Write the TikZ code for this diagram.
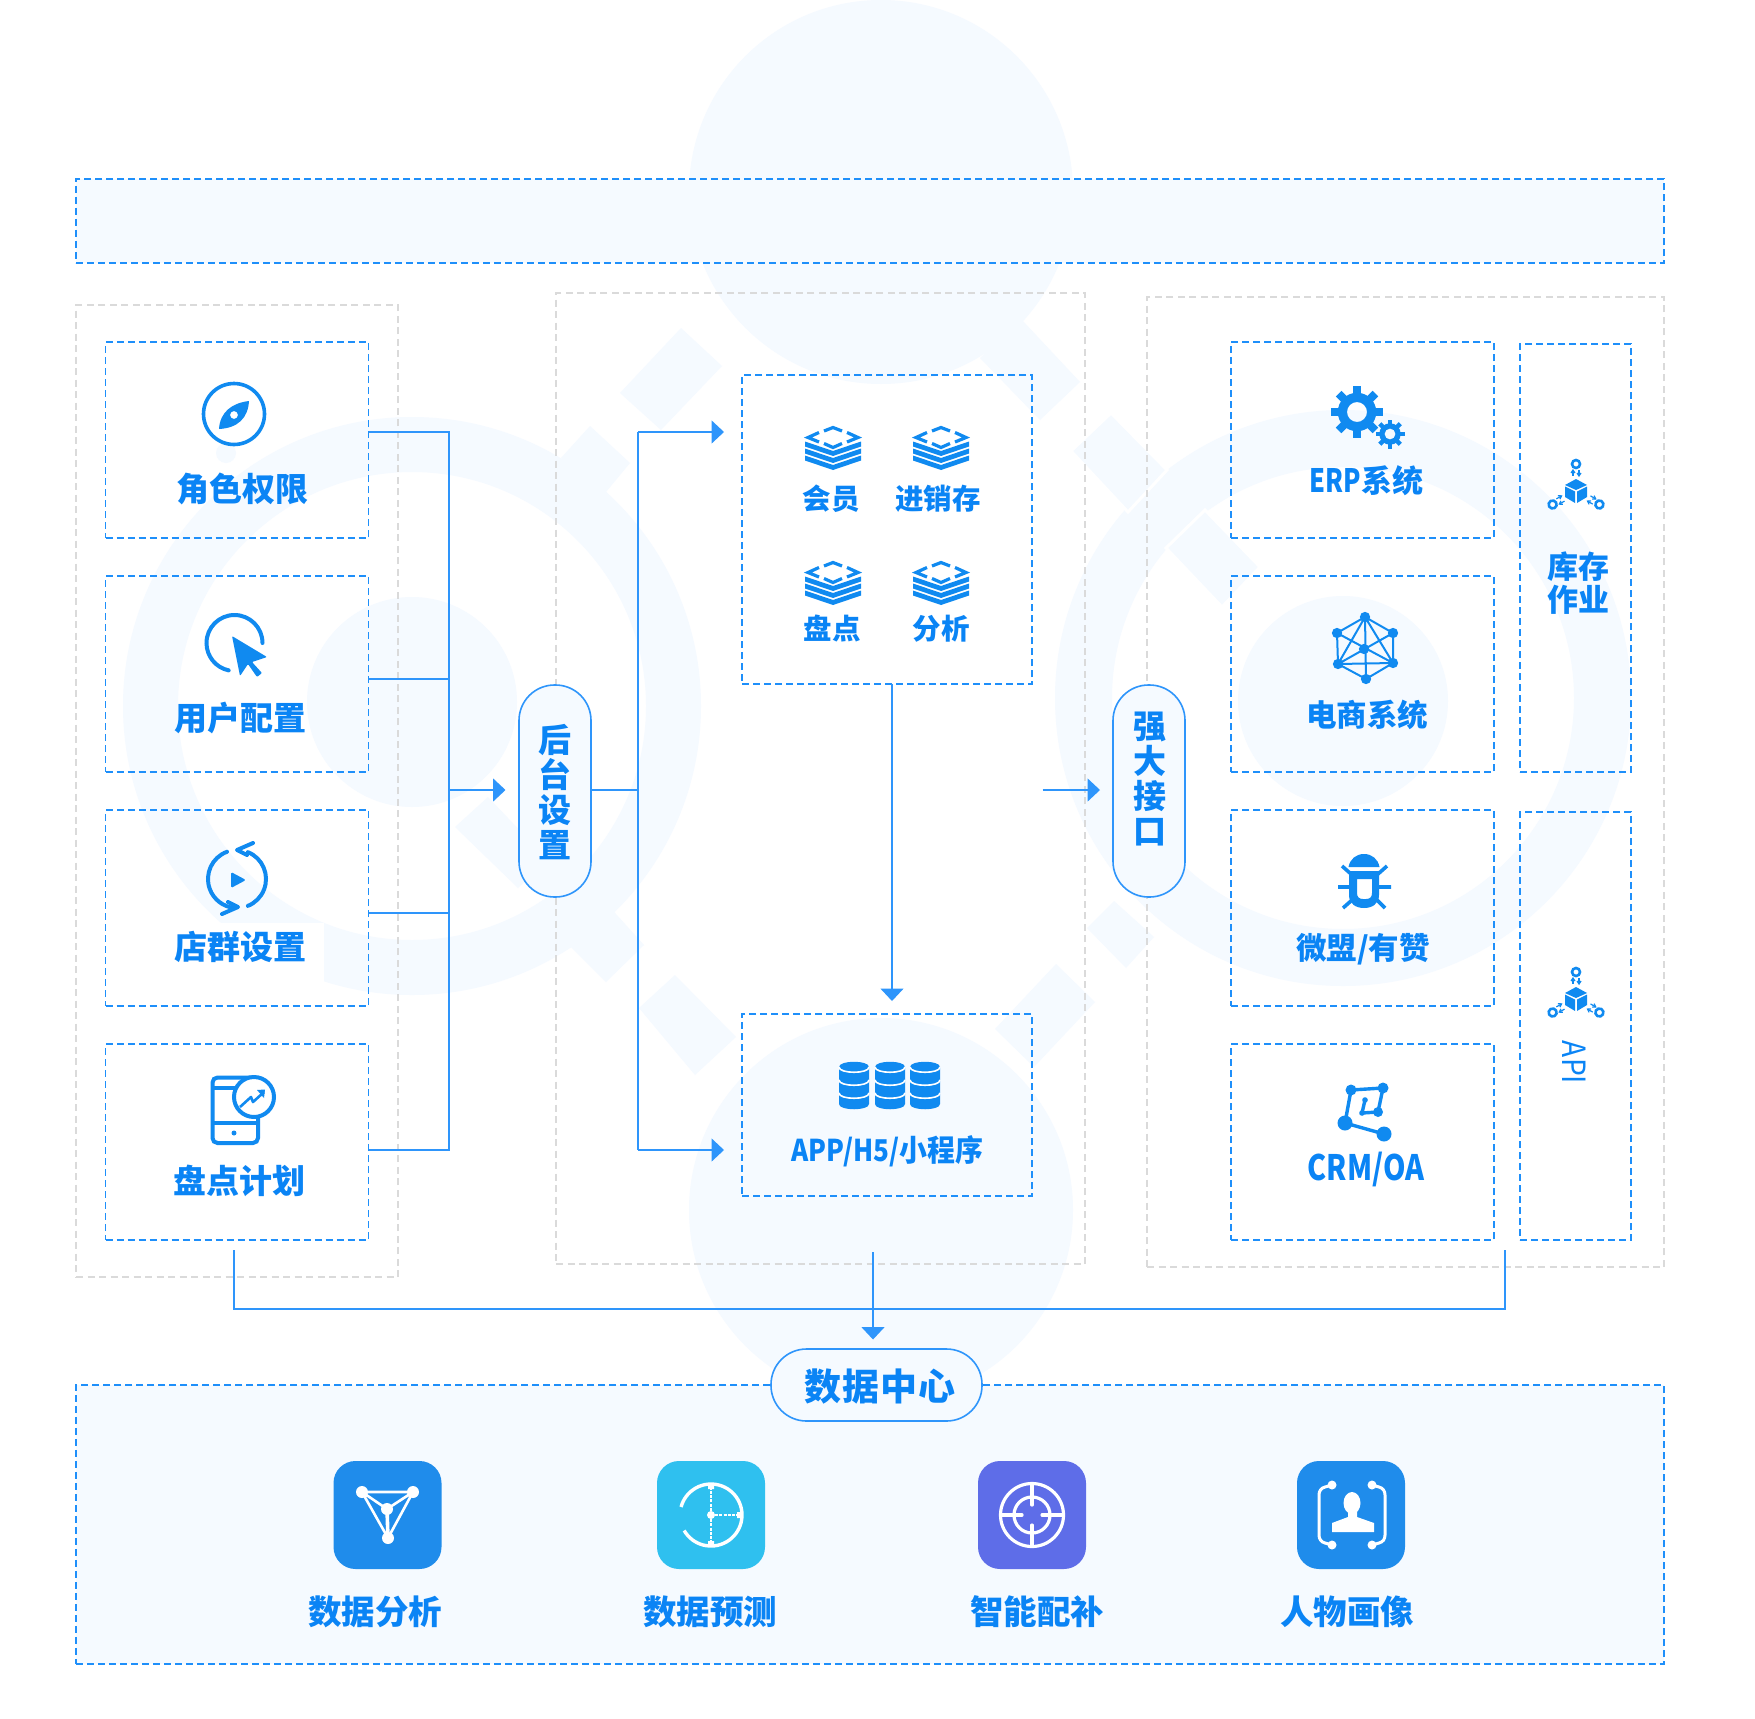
\documentclass[tikz,border=0pt]{standalone}
\usepackage{fontspec}
\usetikzlibrary{arrows.meta,calc}
\newfontfamily\cjkfont{Noto Sans CJK SC}
\definecolor{pale}{HTML}{F5FAFF}
\definecolor{dashblue}{HTML}{1E8FFA}
\definecolor{linkblue}{HTML}{2E95FB}
\definecolor{grayline}{HTML}{DADADA}
\definecolor{labblue}{HTML}{0A84F5}
\definecolor{iconblue}{HTML}{108AF0}
\definecolor{tileA}{HTML}{1F8CEB}
\definecolor{tileB}{HTML}{2FC0EF}
\definecolor{tileC}{HTML}{5E6DE8}
\tikzset{
  x=1pt,y=-1pt,
  bluebox/.style={draw=dashblue,line width=1.6pt,dash pattern=on 7pt off 4pt,inner sep=0pt,outer sep=0pt},
  graybox/.style={draw=grayline,line width=1.5pt,dash pattern=on 7pt off 4.5pt,inner sep=0pt,outer sep=0pt},
  paneA/.style={bluebox,minimum width=263pt,minimum height=196pt},
  paneB/.style={bluebox,minimum width=111pt,minimum height=428pt},
  paneC/.style={bluebox,minimum width=290pt},
  pill/.style={draw=linkblue,line width=1.6pt,fill=pale,inner sep=0pt,outer sep=0pt,rounded corners=35.5pt},
  link/.style={draw=linkblue,line width=1.6pt},
  arr/.style={link,-{Triangle[length=12.5pt,width=23pt,fill=linkblue]}},
  lab/.style={text=labblue,inner sep=0pt,outer sep=0pt,align=center,font=\cjkfont\bfseries\fontsize{#1}{#1}\selectfont},
  tile/.style={minimum width=108pt,minimum height=108pt,rounded corners=22pt,inner sep=0pt,outer sep=0pt},
}
% icon pieces, each placed by its reference point
\newcommand{\stackicon}[2]{\begin{scope}[shift={(#1,#2)},iconblue]
  \draw[line width=3.2pt] (-9,5)--(0,1.5)--(9,5);
  \draw[line width=3.2pt] (-14,6.5)--(-25,11.5)--(-14,16);
  \draw[line width=3.2pt] (14,6.5)--(25,11.5)--(14,16);
  \draw[line width=3.2pt] (-9,17.5)--(0,21.5)--(9,17.5);
  \foreach \yy in {15.5,22.5,29.5}{\fill (-28,\yy)--(0,\yy+9.5)--(28,\yy)--(28,\yy+5)--(0,\yy+14.5)--(-28,\yy+5)--cycle;}
\end{scope}}
\newcommand{\cylicon}[1]{\begin{scope}[shift={(#1,1067)}]
  \fill[iconblue] (-15,0)--(-15,37) .. controls (-15,44) and (15,44) .. (15,37)--(15,0) .. controls (15,-7) and (-15,-7) .. (-15,0)--cycle;
  \foreach \yy in {0,13,26}{\draw[white,line width=1.6pt] (-15,\yy) .. controls (-15,\yy+7) and (15,\yy+7) .. (15,\yy);}
\end{scope}}
\newcommand{\cubeicon}[2]{\begin{scope}[shift={(#1,#2)}]
  \fill[iconblue] (0,-12)--(11,-6)--(0,-1)--(-11,-6)--cycle;
  \fill[iconblue] (-11,-4.5)--(-1,0.5)--(-1,12)--(-11,6)--cycle;
  \fill[iconblue] (11,-4.5)--(1,0.5)--(1,12)--(11,6)--cycle;
  \foreach \aa in {0,120,240}{\begin{scope}[rotate=\aa]
    \draw[iconblue,line width=2.6pt,fill=white] (0,-27) circle[radius=4pt];
    \draw[iconblue,line width=1.2pt] (-3,-21)--(-3,-15);
    \draw[iconblue,line width=1.2pt] (3,-21)--(3,-15);
    \draw[iconblue,line width=1.2pt] (-5,-18)--(-3,-21)--(-1,-18);
    \draw[iconblue,line width=1.2pt] (1,-18)--(3,-15)--(5,-18);
  \end{scope}}
\end{scope}}
\newcommand{\gearicon}[5]{\begin{scope}[shift={(#1,#2)}]
  \foreach \aa in {0,45,...,315}{\draw[iconblue,line width=#5] (\aa:#3*0.6) -- (\aa:#3);}
  \fill[iconblue,even odd rule] (0,0) circle[radius=#3*0.74] (0,0) circle[radius=#4];
\end{scope}}
\begin{document}
\begin{tikzpicture}[line cap=butt]
\useasboundingbox (0,0) rectangle (1755,1718);
\fill[white] (0,0) rectangle (1755,1718);
% ---------- pale background artwork
\fill[pale] (881,192) circle[radius=192pt];
\fill[pale] (881,1210) circle[radius=192pt];
\fill[pale,even odd rule] (412,706) circle[radius=289pt] (412,706) circle[radius=234pt];
\fill[pale] (412,702) circle[radius=105pt];
\fill[pale,even odd rule] (1343,698) circle[radius=288pt] (1343,698) circle[radius=231pt];
\fill[pale] (1343,701) circle[radius=105pt];
\fill[pale] (681,328)--(722,366)--(661,430)--(620,393)--cycle;
\fill[pale] (1022,320)--(1080,382)--(1040,420)--(980,358)--cycle;
\fill[pale] (590,426)--(630,463)--(606,492)--(561,458)--cycle;
\fill[pale] (455,827)--(518,888)--(548,860)--(488,797)--cycle;
\fill[pale] (546,922)--(606,982)--(644,945)--(588,883)--cycle;
\fill[pale] (675,975)--(736,1037)--(695,1075)--(639,1008)--cycle;
\fill[pale] (1056,964)--(1095,1002)--(1034,1067)--(995,1029)--cycle;
\fill[pale] (1114,901)--(1154,937)--(1126,968)--(1087,928)--cycle;
\filldraw[pale,draw=white,line width=3pt] (1111,413)--(1167,470)--(1128,512)--(1071,451)--cycle;
\filldraw[pale,draw=white,line width=3pt] (1205,510)--(1260,567)--(1222,607)--(1166,548)--cycle;
\fill[white] (200,923) rectangle (324,1000);
\fill[pale] (226,453) circle[radius=10pt];
% ---------- top and bottom bands
\node[bluebox,fill=pale,minimum width=1588pt,minimum height=84pt] (topband) at (870,221) {};
\node[bluebox,fill=pale,minimum width=1588pt,minimum height=279pt] (databand) at (870,1524.5) {};
% ---------- gray groups
\node[graybox,minimum width=322pt,minimum height=972pt] (grpL) at (237,791) {};
\node[graybox,minimum width=529pt,minimum height=971pt] (grpM) at (820.5,778.5) {};
\node[graybox,minimum width=517pt,minimum height=970pt] (grpR) at (1405.5,782) {};
% ---------- panes
\node[paneA] (role) at (237,440) {};
\node[paneA] (user) at (237,674) {};
\node[paneA] (shop) at (237,908) {};
\node[paneA] (plan) at (237,1142) {};
\node[paneC,minimum height=309pt] (core) at (887,529.5) {};
\node[paneC,minimum height=182pt] (apps) at (887,1105) {};
\node[paneA] (erp) at (1362.5,440) {};
\node[paneA] (ecom) at (1362.5,674) {};
\node[paneA] (wei) at (1362.5,908) {};
\node[paneA] (crm) at (1362.5,1142) {};
\node[paneB] (stock) at (1575.5,558) {};
\node[paneB] (api) at (1575.5,1026) {};
% ---------- connector waypoints
\coordinate (busT) at (449,432);
\coordinate (busU) at (449,679);
\coordinate (busS) at (449,913);
\coordinate (busB) at (449,1150);
\coordinate (busM) at (449,790);
\coordinate (forkT) at (638,432);
\coordinate (forkM) at (638,790);
\coordinate (forkB) at (638,1150);
\coordinate (downX) at (892,684);
\coordinate (ifStart) at (1042.5,790);
\coordinate (colL) at (234,1250);
\coordinate (colLb) at (234,1309);
\coordinate (colR) at (1505,1250);
\coordinate (colRb) at (1505,1309);
\coordinate (midS) at (873,1252);
\coordinate (midB) at (873,1309);
% ---------- pills drawn after the links that run into them
\draw[link] (role.east |- busT) -- (busT) -- (busB) -- (plan.east |- busB);
\draw[link] (user.east |- busU) -- (busU);
\draw[link] (shop.east |- busS) -- (busS);
\node[pill,minimum width=72pt,minimum height=212pt] (backend) at (555,791) {};
\node[pill,minimum width=72pt,minimum height=212pt] (iface) at (1149,791) {};
\draw[arr,shorten >=13.5pt] (busM) -- (backend.west |- busM);
\draw[link] (backend.east |- forkM) -- (forkM);
\draw[link] (forkT) -- (forkB);
\draw[arr,shorten >=18pt] (forkT) -- (core.west |- forkT);
\draw[arr,shorten >=18pt] (forkB) -- (apps.west |- forkB);
\draw[arr,shorten >=13pt] (downX) -- (apps.north -| downX);
\draw[arr,shorten >=13pt] (ifStart) -- (iface.west |- ifStart);
\draw[link] (colL) -- (colLb) -- (colRb) -- (colR);
\node[pill,fill=pale,minimum width=211pt,minimum height=72pt] (hub) at (876.5,1385) {};
\draw[arr,shorten >=9.5pt] (midS) -- (hub.north -| midS);
% ---------- pill texts
\node[lab=32,font=\cjkfont\bfseries\fontsize{33}{35}\selectfont] (tBack) at (555,792) {后\\台\\设\\置};
\node[lab=32,font=\cjkfont\bfseries\fontsize{33}{35}\selectfont] (tIf) at (1150,779) {强\\大\\接\\口};
\node[lab=37] (tHub) at (880,1387) {数\kern1pt据\kern1pt中\kern1pt心};
% ---------- left icons
\draw[iconblue,line width=3.6pt] (234,414) circle[radius=30.5pt];
\fill[iconblue,even odd rule] (219,429) .. controls (220,412) and (232,403) .. (249,401) .. controls (248,418) and (238,428) .. (219,429)--cycle (234,415) circle[radius=4pt];
\draw[iconblue,line width=4pt,line cap=round] (234.5,643) ++(0:28pt) arc[start angle=0,end angle=258,radius=28pt];
\fill[iconblue,rounded corners=1pt] (232,636)--(267,657)--(252,662)--(262,673)--(257,677)--(248,664)--(240,676)--cycle;
\draw[iconblue,line width=4pt,line cap=round] (237,879) ++(110:29pt) arc[start angle=110,end angle=265,radius=29pt];
\draw[iconblue,line width=4pt,line cap=round] (237,879) ++(68:29pt) arc[start angle=68,end angle=-68,radius=29pt];
\draw[iconblue,line width=4pt,line cap=round,line join=round] (253,843)--(237,850)--(247,855);
\draw[iconblue,line width=4pt,line cap=round,line join=round] (222,914)--(238,907)--(228,902);
\fill[iconblue,rounded corners=1.5pt] (231,872)--(231,888)--(246,880)--cycle;
\draw[iconblue,line width=4pt,rounded corners=5pt,fill=white] (212.5,1077.5) rectangle (258,1143);
\draw[iconblue,line width=3.5pt] (212,1088)--(238,1088) (212,1123)--(258,1123);
\fill[iconblue] (234,1133) circle[radius=2.5pt];
\draw[iconblue,line width=4pt,fill=white] (254,1097) circle[radius=20pt];
\draw[iconblue,line width=2.6pt,line join=round] (240,1107)--(251,1097)--(253,1102)--(264,1092);
\fill[iconblue] (257,1090)--(265,1089.5)--(264,1098)--cycle;
% ---------- left labels
\node[lab=33] (tRole) at (242,489) {角色权限};
\node[lab=33] (tUser) at (240,718) {用户配置};
\node[lab=33] (tShop) at (240,947) {店群设置};
\node[lab=33] (tPlan) at (239,1181) {盘点计划};
% ---------- centre icons and labels
\stackicon{833}{426}
\stackicon{941}{426}
\stackicon{833}{561}
\stackicon{941}{561}
\node[lab=28.5] (tMem) at (831,498.5) {会员};
\node[lab=28.5] (tInv) at (938,498.5) {进销存};
\node[lab=28.5] (tCnt) at (832,628.5) {盘点};
\node[lab=28.5] (tAna) at (941,628.5) {分析};
\cylicon{854}
\cylicon{890}
\cylicon{925}
\node[lab=30] (tApp) at (887.5,1151.5) {\scalebox{0.87}[1]{APP/H5/}\scalebox{0.93}[1]{小程序}};
% ---------- right icons
\gearicon{1357}{412}{26pt}{10pt}{8pt}
\gearicon{1390}{434}{14.5pt}{5.5pt}{4.5pt}
\begin{scope}[iconblue,line width=2pt]
\coordinate (nT) at (1365,617);\coordinate (nUL) at (1337,633);\coordinate (nUR) at (1393,633);
\coordinate (nC) at (1364,649);\coordinate (nLL) at (1338,664);\coordinate (nLR) at (1393,663);\coordinate (nB) at (1366,679);
\draw (nT)--(nUR)--(nLR)--(nB)--(nLL)--(nUL)--cycle;
\draw (nT)--(nLL)--(nLR)--cycle (nT)--(nB) (nUL)--(nLR) (nUR)--(nLL);
\foreach \nn in {nT,nUL,nUR,nC,nLL,nLR,nB}{\filldraw[draw=iconblue,fill=iconblue,line width=1pt] (\nn) circle[radius=4.6pt];}
\end{scope}
\draw[iconblue,line width=3.6pt] (1342,866)--(1351,874) (1387,866)--(1378,874) (1338,887)--(1351,887) (1391,887)--(1378,887) (1343,908)--(1352,900) (1385,908)--(1377,900);
\fill[iconblue] (1348.5,867) .. controls (1350,859) and (1356,854) .. (1364,854) .. controls (1372,854) and (1378,859) .. (1379.5,867)--cycle;
\fill[iconblue,even odd rule] (1349,871)--(1379,871)--(1379,895) .. controls (1379,904) and (1372,908) .. (1364,908) .. controls (1356,908) and (1349,904) .. (1349,895)--cycle
  (1357,879)--(1372,879)--(1372,893) .. controls (1372,897) and (1370,899) .. (1366,899)--(1363,899) .. controls (1359,899) and (1357,897) .. (1357,893)--cycle;
\draw[iconblue,line width=3.4pt] (1351,1090)--(1383,1088)--(1378,1112)--(1362,1113)--(1365,1100);
\draw[iconblue,line width=3.4pt] (1351,1090)--(1345,1123)--(1384,1134);
\fill[iconblue] (1351,1090) circle[radius=5.5pt] (1383,1088) circle[radius=5.5pt] (1378,1112) circle[radius=5pt] (1345,1123) circle[radius=7.5pt] (1384,1134) circle[radius=7.5pt] (1365,1100) circle[radius=2.8pt] (1362,1113) circle[radius=2.8pt];
\cubeicon{1576}{491}
\cubeicon{1576}{999}
% ---------- right labels
\node[lab=31] (tErp) at (1366.5,481) {\scalebox{0.82}[1.04]{ERP}系统};
\node[lab=30.5] (tEco) at (1367,715) {电商系统};
\node[lab=30.5] (tWei) at (1363,949) {微盟/有赞};
\node[lab=35] (tCrm) at (1366,1169.5) {\scalebox{0.82}[1]{CRM/OA}};
\node[lab=30,font=\cjkfont\bfseries\fontsize{31}{33}\selectfont] (tStk) at (1578,583.5) {库存\\作业};
\node[text=labblue,inner sep=0pt,rotate=-90,font=\cjkfont\fontsize{32}{32}\selectfont] (tApi) at (1574,1062.5) {\scalebox{0.88}[1]{API}};
% ---------- tiles
\node[tile,fill=tileA] (tile1) at (387.5,1515) {};
\node[tile,fill=tileB] (tile2) at (711,1515) {};
\node[tile,fill=tileC] (tile3) at (1032,1515) {};
\node[tile,fill=tileA] (tile4) at (1351,1515) {};
% tile 1 glyph
\draw[white,line width=2.6pt] (362,1492)--(413,1492)--(388,1538)--cycle (362,1492)--(387,1509)--(413,1492);
\draw[white,line width=3.6pt] (387,1509)--(388,1538);
\fill[white] (362,1492) circle[radius=6pt] (413,1492) circle[radius=6pt] (388,1538) circle[radius=6pt] (387,1509) circle[radius=6pt];
% tile 2 glyph
\draw[white,line width=3.4pt] (711,1515) ++(210:31pt) arc[start angle=210,end angle=525,radius=31pt];
\draw[white,line width=2.2pt,dash pattern=on 3pt off 1.2pt] (711,1515)--(711,1488) (711,1515)--(711,1542) (711,1515)--(738,1515);
\fill[white] (711,1515) circle[radius=4pt];
\fill[white] (708,1484) rectangle (714,1489) (708,1541) rectangle (714,1546) (737,1512) rectangle (742,1518);
% tile 3 glyph
\draw[white,line width=3.2pt] (1032,1515) circle[radius=31.5pt] (1032,1515) circle[radius=18pt];
\draw[white,line width=3.2pt,line cap=round] (1032,1484)--(1032,1505) (1032,1546)--(1032,1525) (1001,1515)--(1022,1515) (1063,1515)--(1042,1515);
% tile 4 glyph
\draw[white,line width=3pt,line cap=round] (1332,1485)--(1325,1487) .. controls (1321,1488) and (1319,1491) .. (1319,1495)--(1319,1535) .. controls (1319,1539) and (1321,1542) .. (1325,1543)--(1332,1545);
\draw[white,line width=3pt,line cap=round] (1372,1485)--(1379,1487) .. controls (1383,1488) and (1385,1491) .. (1385,1495)--(1385,1535) .. controls (1385,1539) and (1383,1542) .. (1379,1543)--(1372,1545);
\fill[white] (1332,1485) circle[radius=4.5pt] (1332,1545) circle[radius=4.5pt] (1372,1485) circle[radius=4.5pt] (1372,1545) circle[radius=4.5pt];
\fill[white] (1352,1503) ellipse[x radius=8.5pt,y radius=11pt];
\fill[white] (1332,1532)--(1332,1523)--(1348,1517)--(1348,1508)--(1357,1508)--(1357,1517)--(1374,1523)--(1374,1532)--cycle;
% ---------- tile labels
\node[lab=33.5] (tT1) at (375,1612) {数据分析};
\node[lab=33.5] (tT2) at (710,1612) {数据预测};
\node[lab=33.5] (tT3) at (1037,1612) {智能配补};
\node[lab=33.5] (tT4) at (1347,1612) {人物画像};
\end{tikzpicture}
\end{document}
